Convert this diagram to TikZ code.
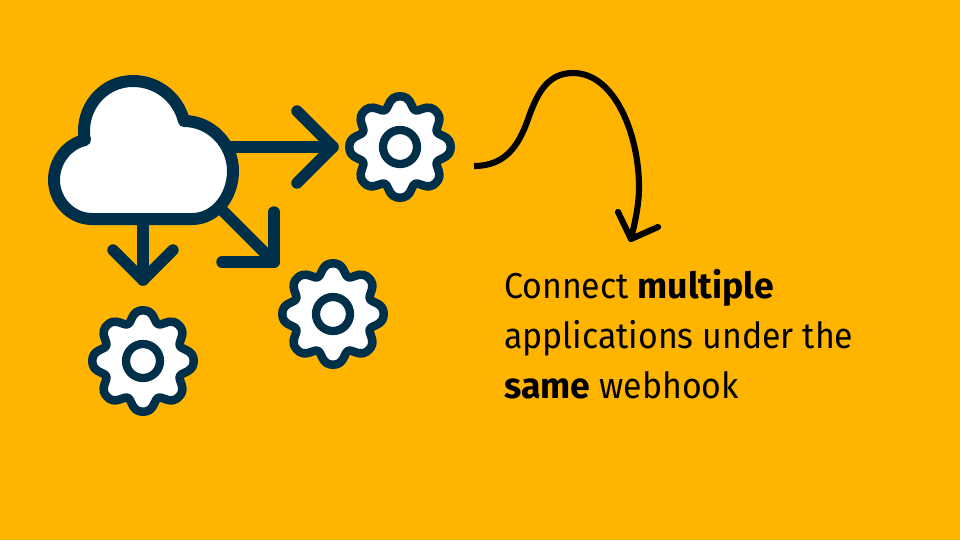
\documentclass[tikz,border=0pt]{standalone}
\usepackage{fontspec}
\setmainfont{Fira Sans}[FakeStretch=0.94,BoldFeatures={FakeStretch=0.99}]
\definecolor{bgyellow}{RGB}{255,181,0}
\definecolor{navy}{RGB}{0,48,73}
\tikzset{
  iconline/.style={draw=navy,line width=6.4,line join=round},
  flowline/.style={draw=navy,line width=8.6,line cap=round,line join=round},
  curveline/.style={draw=black,line width=4.6},
}
\begin{document}
\begin{tikzpicture}[x=0.75pt,y=0.75pt,yscale=-1,xscale=1]
\fill [bgyellow] (0,0) rectangle (960,540);

%Anchors of the connectors
\coordinate (cloudE) at (225,147);
\coordinate (cloudS) at (143,219);
\coordinate (cloudSE) at (220,208);
\coordinate (tipE) at (333,147);
\coordinate (tipS) at (143,280);
\coordinate (tipSE) at (274,262);
\coordinate (curveStart) at (474,166);
\coordinate (curveTip) at (631,239);

%Straight Lines
\draw [flowline] (cloudE) -- (tipE);
\draw [flowline] (297,111) -- (tipE) -- (297,183);
\draw [flowline] (cloudS) -- (tipS);
\draw [flowline] (113,250) -- (tipS) -- (173,250);
\draw [flowline] (cloudSE) -- (tipSE);
\draw [flowline] (274,212) -- (tipSE) -- (222,262);

%Cloud
\draw [iconline,line width=9,fill=white] (92,219) -- (192,219) .. controls (216,219) and (233,196) .. (233,171) .. controls (233,144) and (211,121) .. (184,121) .. controls (178,97) and (157,81) .. (133,81) .. controls (105,81) and (84,104) .. (84,131) .. controls (84,134) and (84,137) .. (85,140) .. controls (67,144) and (54,161) .. (54,180) .. controls (54,201) and (71,219) .. (92,219) -- cycle;

%Gears
\foreach \gearname/\gx/\gy in {gearA/400/147,gearB/333/314,gearC/143/361}{
  \coordinate (\gearname) at (\gx,\gy);
  \draw [iconline,fill=white,shift={(\gearname)}] plot [smooth cycle,samples=96,domain=0:356.25,variable=\t] (\t:{46.2+5.5*cos(8*\t)-1*cos(16*\t)});
  \draw [iconline,line width=6.2] (\gearname) circle (17);
}

%Curved Arrow
\draw [curveline] (curveStart) .. controls (505,166) and (518,146) .. (527,122) .. controls (536,96) and (546,73) .. (573,73) .. controls (615,73) and (639,135) .. (639,187) .. controls (639,205) and (635,222) .. (curveTip);
\draw [curveline,line cap=round,line join=round] (618,212) -- (curveTip) -- (658,227);

% Text Node
\node (caption) [anchor=north west,align=left,inner sep=0pt,font=\fontsize{27}{37.6}\selectfont] at (504,269) {Connect \textbf{multiple}\\applications under the\\\textbf{same} webhook};
\end{tikzpicture}
\end{document}
